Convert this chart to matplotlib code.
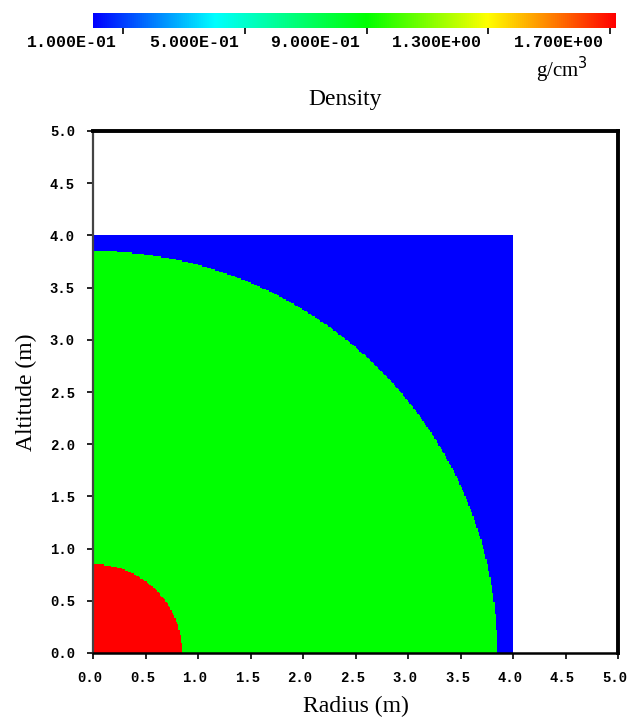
import numpy as np
import matplotlib
matplotlib.use("Agg")
import matplotlib.pyplot as plt
from matplotlib.colors import LinearSegmentedColormap, Normalize
from matplotlib.transforms import ScaledTranslation

# layers of the model, outermost first (density in g/cm3)
layer_names = ["air box", "outer sphere", "core"]
layer_shape = ["box", "circle", "circle"]
layer_size = [4.0, 3.85, 0.85]        # half-width of box / radius (m)
layer_density = [0.0012, 0.9, 1.72]

cbar_ticks = [0.1, 0.5, 0.9, 1.3, 1.7]
cbar_labels = ["1.000E-01", "5.000E-01", "9.000E-01", "1.300E+00", "1.700E+00"]
axis_ticks = [0.0, 0.5, 1.0, 1.5, 2.0, 2.5, 3.0, 3.5, 4.0, 4.5, 5.0]

vmin, vmax = 0.0, 1.72
cmap = LinearSegmentedColormap.from_list(
    "dens",
    [(0.0, "#0000ff"), (0.4 / vmax, "#00ffff"), (0.9 / vmax, "#00ff00"),
     (1.3 / vmax, "#ffff00"), (1.0, "#ff0000")])
norm = Normalize(vmin, vmax)

# mesh on which the material map is sampled
cell = 0.0125
edges = np.arange(0.0, 5.0 + cell / 2, cell)
rc = 0.5 * (edges[:-1] + edges[1:])
R, Z = np.meshgrid(rc, rc)
dens = np.full(R.shape, np.nan)
for shape, size, rho in zip(layer_shape, layer_size, layer_density):
    if shape == "box":
        mask = (R < size) & (Z < size)
    else:
        mask = np.hypot(R, Z) < size
    dens[mask] = rho
dens = np.ma.masked_invalid(dens)

mono = dict(family="Liberation Mono", fontweight="bold")
serif = dict(family="Liberation Serif")

fig = plt.figure(figsize=(6.29, 7.22), dpi=100)

ax = fig.add_axes([93 / 629, 69 / 722, 525 / 629, 522 / 722])
ax.pcolormesh(edges, edges, dens, cmap=cmap, norm=norm, shading="flat")
ax.set_xlim(0, 5)
ax.set_ylim(0, 5)
ax.set_xticks(axis_ticks)
ax.set_yticks(axis_ticks)
ax.set_xticklabels([f"{t:.1f}" for t in axis_ticks], fontsize=10, **mono)
ax.set_yticklabels([f"{t:.1f}" for t in axis_ticks], fontsize=10, **mono)
ax.tick_params(direction="out", length=4, width=1.2, pad=9)
# nudge the x labels a little to the left so the last one stays inside
shift = ScaledTranslation(-3 / 100, 0, fig.dpi_scale_trans)
for lab in ax.get_xticklabels():
    lab.set_transform(lab.get_transform() + shift)
ax.spines["top"].set_linewidth(2.8)
ax.spines["right"].set_linewidth(2.8)
ax.spines["bottom"].set_linewidth(1.8)
ax.spines["left"].set_linewidth(1.6)
ax.spines["left"].set_color("#444444")
ax.set_xlabel("Radius (m)", fontsize=17, labelpad=8, **serif)
ax.set_ylabel("Altitude (m)", fontsize=17, labelpad=9, **serif)

# colour scale along the top
cax = fig.add_axes([93 / 629, 694 / 722, 523 / 629, 15 / 722])
grad = np.linspace(vmin, vmax, 512).reshape(1, -1)
cax.imshow(grad, cmap=cmap, norm=norm, aspect="auto",
           extent=[vmin, vmax, 0, 1])
cax.set_xlim(vmin, vmax)
cax.set_yticks([])
cax.set_xticks(cbar_ticks)
cax.set_xticklabels([])
cax.tick_params(axis="x", direction="out", length=4, width=1.2)
for s in cax.spines.values():
    s.set_visible(False)
for t, lab in zip(cbar_ticks, cbar_labels):
    cax.text(t - 0.02, -0.95, lab, ha="right", va="center",
             transform=cax.get_xaxis_transform(), fontsize=12, **mono)

fig.text(588 / 629, 1 - 70 / 722, "g/cm$^3$", ha="right", va="center",
         fontsize=15, **serif)
fig.text(345 / 629, 1 - 100 / 722, "Density", ha="center", va="center",
         fontsize=17, **serif)

fig.savefig("out.png", dpi=100)
